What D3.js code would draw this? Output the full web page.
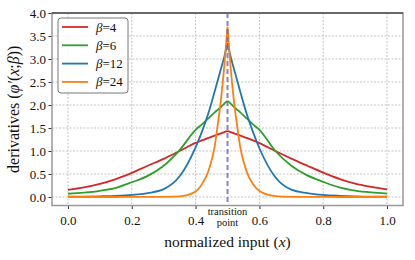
<!DOCTYPE html>
<html>
<head>
<meta charset="utf-8">
<script src="https://cdn.jsdelivr.net/npm/d3@7"></script>
<style>
  body { margin: 0; background: #fff; }
  svg { display: block; font-family: "Liberation Serif", "DejaVu Serif", serif; }
</style>
</head>
<body>
<svg id="chart"></svg>
<script>
// sampled x positions (denser around the transition point)
const xs = [0, 0.05, 0.1, 0.15, 0.2, 0.25, 0.3, 0.35, 0.4, 0.42, 0.44, 0.46, 0.47, 0.48, 0.49, 0.5,
  0.51, 0.52, 0.53, 0.54, 0.56, 0.58, 0.6, 0.65, 0.7, 0.75, 0.8, 0.85, 0.9, 0.95, 1.0];

// values
const beta4 = [0.155, 0.21, 0.285, 0.39, 0.525, 0.68, 0.83, 1.0, 1.175, 1.23, 1.285, 1.335, 1.36, 1.385, 1.41, 1.435,
  1.41, 1.385, 1.36, 1.335, 1.285, 1.23, 1.17, 1.0, 0.835, 0.68, 0.53, 0.395, 0.29, 0.22, 0.165];
const beta6 = [0.07, 0.095, 0.135, 0.2, 0.32, 0.46, 0.68, 1.02, 1.46, 1.58, 1.71, 1.84, 1.9, 1.96, 2.03, 2.09,
  2.03, 1.96, 1.9, 1.84, 1.71, 1.58, 1.46, 1.0, 0.68, 0.47, 0.33, 0.21, 0.14, 0.1, 0.075];
const beta12 = [0.005, 0.008, 0.015, 0.025, 0.045, 0.085, 0.17, 0.45, 1.08, 1.42, 1.82, 2.3, 2.55, 2.8, 3.05, 3.35,
  3.05, 2.79, 2.54, 2.29, 1.81, 1.41, 1.06, 0.43, 0.16, 0.085, 0.045, 0.025, 0.013, 0.008, 0.005];
const beta24 = [0, 0, 0, 0, 0.001, 0.002, 0.004, 0.015, 0.12, 0.28, 0.56, 1.1, 1.6, 2.15, 2.85, 3.7,
  2.8, 2.1, 1.55, 1.08, 0.55, 0.28, 0.13, 0.02, 0.004, 0.002, 0.001, 0, 0, 0, 0];

const labels = ['4', '6', '12', '24'];
const colors = ['#d62728', '#2ca02c', '#1f77b4', '#ff7f0e'];
const xTicks = [0, 0.2, 0.4, 0.6, 0.8, 1.0];
const yTicks = [0, 0.5, 1, 1.5, 2, 2.5, 3, 3.5, 4];
const transitionX = 0.5;

const width = 415, height = 260;
const m = { left: 52, right: 403, top: 13, bottom: 205.5 };

const svg = d3.select('#chart')
  .attr('width', width)
  .attr('height', height);

const x = d3.scaleLinear().domain([-0.05, 1.05]).range([m.left, m.right]);
const y = d3.scaleLinear().domain([-0.185, 4.0]).range([m.bottom, m.top]);

// grid
const grid = svg.append('g')
  .attr('stroke', '#c4c4c4')
  .attr('stroke-width', 1)
  .attr('stroke-dasharray', '2,1.5');
grid.selectAll('line.gx')
  .data(xTicks)
  .enter().append('line')
  .attr('x1', d => x(d)).attr('x2', d => x(d))
  .attr('y1', m.top).attr('y2', m.bottom);
grid.selectAll('line.gy')
  .data(yTicks)
  .enter().append('line')
  .attr('x1', m.left).attr('x2', m.right)
  .attr('y1', d => y(d)).attr('y2', d => y(d));

// axes
const xAxis = svg.append('g')
  .attr('transform', `translate(0,${m.bottom})`)
  .call(d3.axisBottom(x).tickValues(xTicks).tickFormat(d3.format('.1f')).tickSizeOuter(0).tickSize(3.5));
const yAxis = svg.append('g')
  .attr('transform', `translate(${m.left},0)`)
  .call(d3.axisLeft(y).tickValues(yTicks).tickFormat(d3.format('.1f')).tickSizeOuter(0).tickSize(3.5));
[xAxis, yAxis].forEach(a => {
  a.select('.domain').remove();
  a.selectAll('line').attr('stroke', '#333');
  a.selectAll('text')
    .attr('fill', '#111')
    .attr('font-size', 13)
    .attr('font-family', '"Liberation Serif", serif');
});
xAxis.selectAll('text').attr('dy', '1.0em');
yAxis.selectAll('text').attr('x', -6);

// frame
svg.append('rect')
  .attr('x', m.left).attr('y', m.top)
  .attr('width', m.right - m.left).attr('height', m.bottom - m.top)
  .attr('fill', 'none')
  .attr('stroke', '#999')
  .attr('stroke-width', 1.5);
svg.append('line')
  .attr('x1', m.left).attr('x2', m.right)
  .attr('y1', m.top).attr('y2', m.top)
  .attr('stroke', '#222')
  .attr('stroke-width', 1.2);

// curves: each half drawn monotone so the peak stays sharp
const line = d3.line()
  .x(d => x(d[0]))
  .y(d => y(d[1]))
  .curve(d3.curveMonotoneX);

const series = [beta4, beta6, beta12, beta24];
series.forEach((vals, i) => {
  const pts = xs.map((v, j) => [v, vals[j]]);
  const lhs = pts.filter(p => p[0] <= transitionX);
  const rhs = pts.filter(p => p[0] >= transitionX);
  svg.append('path')
    .attr('d', line(lhs) + line(rhs))
    .attr('fill', 'none')
    .attr('stroke', colors[i])
    .attr('stroke-width', 1.8)
    .attr('stroke-linejoin', 'round');
});

// transition point marker
svg.append('line')
  .attr('x1', x(transitionX)).attr('x2', x(transitionX))
  .attr('y1', m.top).attr('y2', m.bottom)
  .attr('stroke', '#6464c4')
  .attr('stroke-opacity', 0.8)
  .attr('stroke-width', 2)
  .attr('stroke-dasharray', '5,3');

const tp = svg.append('text')
  .attr('text-anchor', 'middle')
  .attr('font-size', 10.5)
  .attr('fill', '#111');
tp.append('tspan').attr('x', x(transitionX)).attr('y', 215).text('transition');
tp.append('tspan').attr('x', x(transitionX)).attr('y', 225.5).text('point');

// legend
const lg = svg.append('g');
lg.append('rect')
  .attr('x', 58).attr('y', 18)
  .attr('width', 70).attr('height', 75)
  .attr('rx', 3)
  .attr('fill', '#fff')
  .attr('fill-opacity', 0.85)
  .attr('stroke', '#555')
  .attr('stroke-width', 0.8);
labels.forEach((b, i) => {
  const ly = 27 + i * 18.3;
  lg.append('line')
    .attr('x1', 62).attr('x2', 88)
    .attr('y1', ly).attr('y2', ly)
    .attr('stroke', colors[i])
    .attr('stroke-width', 1.8);
  const t = lg.append('text')
    .attr('x', 96).attr('y', ly + 4.5)
    .attr('font-size', 13)
    .attr('fill', '#111');
  t.append('tspan').attr('font-style', 'italic').text('β');
  t.append('tspan').text('=' + b);
});

// axis titles
const xl = svg.append('text')
  .attr('x', x(0.5)).attr('y', 247)
  .attr('text-anchor', 'middle')
  .attr('font-size', 15.5)
  .attr('fill', '#111');
xl.append('tspan').text('normalized input (');
xl.append('tspan').attr('font-style', 'italic').text('x');
xl.append('tspan').text(')');

const yl = svg.append('text')
  .attr('transform', `translate(19,${(m.top + m.bottom) / 2}) rotate(-90)`)
  .attr('text-anchor', 'middle')
  .attr('font-size', 16)
  .attr('fill', '#111');
yl.append('tspan').text('derivatives (');
yl.append('tspan').attr('font-style', 'italic').text('φ′');
yl.append('tspan').text('(');
yl.append('tspan').attr('font-style', 'italic').text('x');
yl.append('tspan').text(';');
yl.append('tspan').attr('font-style', 'italic').text('β');
yl.append('tspan').text('))');
</script>
</body>
</html>
